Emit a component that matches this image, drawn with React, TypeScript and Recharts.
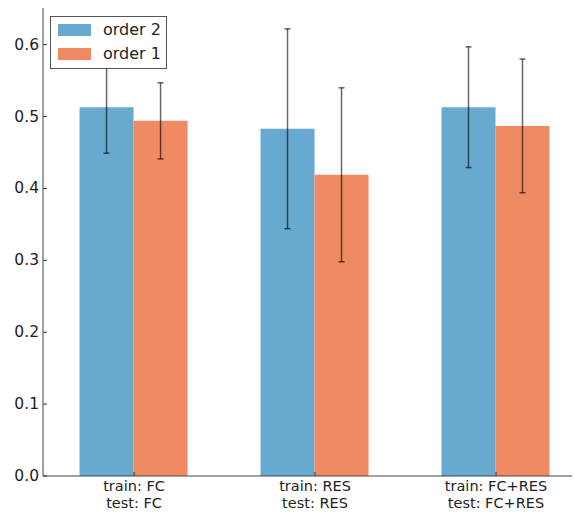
import { BarChart, Bar, XAxis, YAxis, ErrorBar } from 'recharts';

const positions = [0, 1, 2];
const trainLabels = ['train: FC', 'train: RES', 'train: FC+RES'];
const testLabels = ['test: FC', 'test: RES', 'test: FC+RES'];
const order2 = [0.513, 0.483, 0.513];
const order2Err = [0.064, 0.139, 0.084];
const order1 = [0.494, 0.419, 0.487];
const order1Err = [0.053, 0.121, 0.093];
const yTicks = [0, 0.1, 0.2, 0.3, 0.4, 0.5, 0.6];
const seriesNames = ['order 2', 'order 1'];
const seriesColors = ['#67a9cf', '#ef8a62'];

const FONT = '"DejaVu Sans", sans-serif';

const data = positions.map((p, i) => ({
  pos: p,
  order2: order2[i],
  order2Err: order2Err[i],
  order1: order1[i],
  order1Err: order1Err[i],
}));

const XTick = ({ x, y, payload }: any) => {
  const i = positions.indexOf(payload.value);
  return (
    <g>
      <line x1={x} x2={x} y1={y} y2={y - 4} stroke="#333" />
      <text x={x} y={y + 14.5} textAnchor="middle" fontSize={14.5} fontFamily={FONT} fill="#222">
        {trainLabels[i]}
      </text>
      <text x={x} y={y + 31.5} textAnchor="middle" fontSize={14.5} fontFamily={FONT} fill="#222">
        {testLabels[i]}
      </text>
    </g>
  );
};

const YTick = ({ x, y, payload }: any) => (
  <g>
    <line x1={x} x2={x + 4} y1={y} y2={y} stroke="#333" />
    <text x={x - 4} y={y + 5} textAnchor="end" fontSize={15.5} fontFamily={FONT} fill="#222">
      {payload.value.toFixed(1)}
    </text>
  </g>
);

// legend box drawn over the plot, like the original
const LegendBox = () => (
  <div
    style={{
      position: 'absolute',
      left: 50,
      top: 16,
      border: '1px solid #555',
      background: '#fff',
      width: 115,
      height: 51,
      fontFamily: FONT,
      fontSize: 16,
      color: '#222',
    }}
  >
    {seriesNames.map((name, i) => (
      <div key={name}>
        <div
          style={{ position: 'absolute', left: 7, top: 7 + i * 24, width: 33, height: 12, background: seriesColors[i] }}
        />
        <div style={{ position: 'absolute', left: 52, top: 3 + i * 24, lineHeight: '20px', whiteSpace: 'nowrap' }}>
          {name}
        </div>
      </div>
    ))}
  </div>
);

export default function App() {
  return (
    <div style={{ position: 'absolute', left: 0, top: 0, width: 574, height: 514, background: '#fff' }}>
      <BarChart
        width={574}
        height={514}
        data={data}
        margin={{ top: 8, right: 2, bottom: 0, left: 0 }}
        barGap={0}
        barSize={54}
      >
        <XAxis
          dataKey="pos"
          type="number"
          domain={[-0.503, 2.42]}
          ticks={positions}
          allowDataOverflow
          height={38}
          tickSize={0}
          tickMargin={0}
          tick={<XTick />}
          stroke="#444"
        />
        <YAxis
          type="number"
          domain={[0, 0.651]}
          ticks={yTicks}
          allowDataOverflow
          width={43}
          tickSize={0}
          tickMargin={0}
          tick={<YTick />}
          stroke="#444"
        />
        <Bar dataKey="order2" name={seriesNames[0]} fill={seriesColors[0]} isAnimationActive={false}>
          <ErrorBar dataKey="order2Err" width={3} stroke="#000" strokeOpacity={0.6} strokeWidth={1.5} />
        </Bar>
        <Bar dataKey="order1" name={seriesNames[1]} fill={seriesColors[1]} isAnimationActive={false}>
          <ErrorBar dataKey="order1Err" width={3} stroke="#000" strokeOpacity={0.6} strokeWidth={1.5} />
        </Bar>
      </BarChart>
      <LegendBox />
    </div>
  );
}
